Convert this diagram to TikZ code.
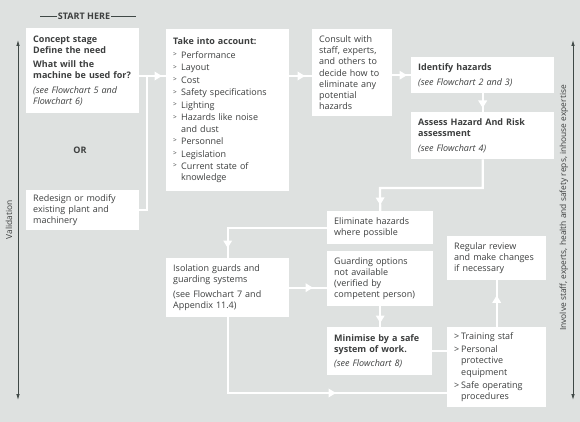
\documentclass[tikz,border=0pt]{standalone}
\usepackage{fontspec}
\setmainfont{Open Sans}
\usetikzlibrary{arrows.meta,positioning,calc,decorations.markings}

\definecolor{bggray}{HTML}{DEE1E0}
\definecolor{inkgray}{HTML}{3D3F3F}
\definecolor{rulegray}{HTML}{3F4846}

\newcommand{\bul}{\makebox[8pt][l]{\raisebox{1.8pt}{\fontsize{6.5}{6.5}\selectfont >}}}
\newcommand{\ind}{\hspace*{8pt}}

\begin{document}
\begin{tikzpicture}[
    x=1pt, y=-1pt,
    box/.style={fill=white, anchor=north west, inner xsep=7pt, inner ysep=0pt, align=left, font=\fontsize{9}{11.2}\selectfont, text=inkgray},
    flow/.style={white, line width=2.2pt, postaction=decorate, decoration={markings, mark=at position -#1 with {\arrow{Triangle[length=7.5pt,width=8.5pt]}}}},
    flow/.default=4pt,
    link/.style={white, line width=2.2pt},
    side/.style={rulegray, line width=0.8pt, {Latex[length=6pt,width=3.5pt]}-{Latex[length=6pt,width=3.5pt]}},
    sidetext/.style={rotate=90, text=inkgray, font=\fontsize{8.4}{11}\selectfont}
  ]
    \useasboundingbox[fill=bggray] (0,0) rectangle (580,422);

    % --- START ---
    \node[font=\fontsize{9}{10}\selectfont\bfseries, text=inkgray, inner sep=1pt] (start) at (84,16) {START HERE};
    \draw[rulegray, line width=0.8pt] (start.west) -- ++(-17,0);
    \draw[rulegray, line width=0.8pt] (start.east) -- ++(25,0);

    % --- LEFT COLUMN ---
    \node[box, text width=99pt, minimum height=85pt] (concept) at (26,28) {\textbf{Concept stage}\\ \textbf{Define the need}\\[3pt] \textbf{What will the}\\ \textbf{machine be used for?}\\[3pt] \textit{(see Flowchart 5 and}\\ \textit{Flowchart 6)}};
    \node[font=\fontsize{9}{11}\selectfont\bfseries, text=inkgray] (or) at (80,150) {OR};
    \node[box, text width=99pt, minimum height=40pt] (redesign) at (26,190) {Redesign or modify\\ existing plant and\\ machinery};

    \node[box, text width=109pt, minimum height=162pt] (take) at (166,29) {\textbf{Take into account:}\\[3pt] \bul Performance\\[1.3pt] \bul Layout\\[1.3pt] \bul Cost\\[1.3pt] \bul Safety specifications\\[1.3pt] \bul Lighting\\[1.3pt] \bul Hazards like noise\\ \ind and dust\\[1.3pt] \bul Personnel\\[1.3pt] \bul Legislation\\[1.3pt] \bul Current state of\\ \ind knowledge};
    \node[box, text width=109pt, minimum height=59pt] (iso) at (166,258) {Isolation guards and\\ guarding systems\\[3pt] (see Flowchart 7 and\\ Appendix 11.4)};

    % --- RIGHT PART ---
    \node[box, text width=66pt, minimum height=87pt] (consult) at (312,29) {Consult with\\ staff, experts,\\ and others to\\ decide how to\\ eliminate any\\ potential\\ hazards};
    \node[box, text width=129pt, minimum height=36pt] (identify) at (411,57) {\textbf{Identify hazards}\\[3pt] \textit{(see Flowchart 2 and 3)}};
    \node[box, text width=129pt, minimum height=47pt] (assess) at (411,112) {\textbf{Assess Hazard And Risk}\\ \textbf{assessment}\\[3pt] \textit{(see Flowchart 4)}};
    \node[box, text width=92pt, minimum height=33pt] (elim) at (327,211) {Eliminate hazards\\ where possible};
    \node[box, text width=92pt, minimum height=55pt] (guard) at (327,251) {Guarding options\\ not available\\ (verified by\\ competent person)};
    \node[box, text width=91pt, minimum height=48pt] (minimise) at (327,327) {\textbf{Minimise by a safe}\\ \textbf{system of work.}\\[3pt] \textit{(see Flowchart 8)}};
    \node[box, text width=85pt, minimum height=44pt] (review) at (447,236) {Regular review\\ and make changes\\ if necessary};
    \node[box, text width=85pt, minimum height=80pt] (training) at (447,327) {\makebox[7pt][l]{>}Training staf\\[2pt] \makebox[7pt][l]{>}Personal\\ \hspace*{7pt}protective\\ \hspace*{7pt}equipment\\[2pt] \makebox[7pt][l]{>}Safe operating\\ \hspace*{7pt}procedures};

    % --- CONNECTORS ---
    \coordinate (jn) at (147,76);
    \coordinate (elimbend) at (380,188);
    \coordinate (lowrun) at (300,393);
    \draw[link] (concept.east |- jn) -- (jn);
    \draw[flow] (redesign.east) -| (jn) -- (take.west |- jn);
    \draw[flow=7pt] (take.east |- jn) -- (consult.west |- jn);
    \draw[flow] (consult.east |- identify.west) -- (identify.west);
    \draw[flow] (identify.south) -- (assess.north);
    \draw[flow=6pt] (assess.south) |- (elimbend) -- (elim.north);
    \draw[flow=10pt] (elim.west) -| (iso.north);
    \draw[flow=14pt] (iso.east) -- (iso.east -| guard.west);
    \draw[flow] (guard.south) -- (guard.south |- minimise.north);
    \draw[link] (minimise.east) -- (minimise.east -| training.west);
    \draw[flow=15pt] (training.north) -- (review.south);
    \draw[flow=111pt] (iso.south) |- (training.west |- lowrun);

    % --- SIDE ARROWS ---
    \coordinate (valtop) at (18,40);
    \coordinate (valbot) at (18,400);
    \coordinate (invtop) at (573,40);
    \coordinate (invbot) at (573,400);
    \draw[side] (valtop) -- (valbot);
    \draw[side] (invtop) -- (invbot);
    \node[sidetext] (validation) at (9,220) {Validation};
    \node[sidetext] (involve) at (564,208) {Involve staff, experts, health and safety reps, inhouse expertise};
\end{tikzpicture}
\end{document}
